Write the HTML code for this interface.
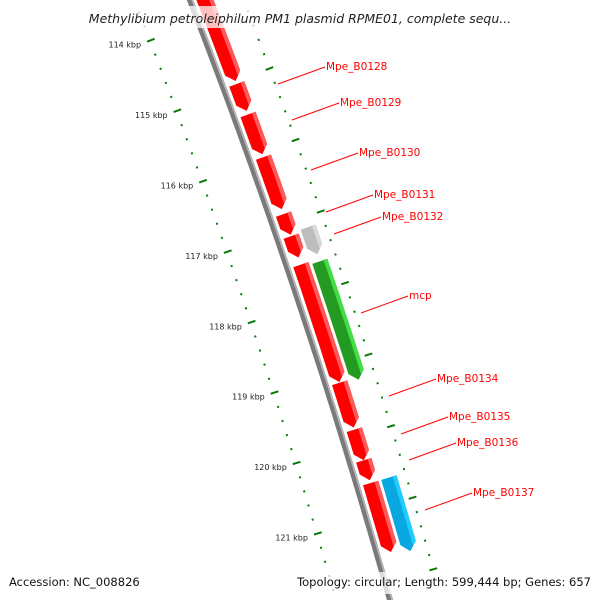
<!DOCTYPE html>
<html><head><meta charset="utf-8"><style>
html,body{margin:0;padding:0;background:#fff;}
svg{display:block;font-family:"DejaVu Sans","Liberation Sans",sans-serif;}
</style></head><body>
<svg id="c" width="600" height="600" viewBox="0 0 600 600"></svg>
<script>
const geneNames = ["","Mpe_B0128","Mpe_B0129","Mpe_B0130","Mpe_B0131","Mpe_B0132","","mcp","Mpe_B0134","Mpe_B0135","Mpe_B0136","Mpe_B0137"];
const geneStarts = [113.55,114.94,115.37,115.97,116.77,117.08,117.48,119.14,119.80,120.23,120.55];
const geneEnds   = [114.90,115.32,115.93,116.70,117.06,117.38,119.13,119.77,120.23,120.51,121.52];
const ring2Starts = [117.04,117.52,120.55];
const ring2Ends   = [117.42,119.18,121.58];
const ring2Kinds  = ["gray","green","blue"];
const tickLabels = [114,115,116,117,118,119,120,121];
const labelTexts = ["Mpe_B0128","Mpe_B0129","Mpe_B0130","Mpe_B0131","Mpe_B0132","mcp","Mpe_B0134","Mpe_B0135","Mpe_B0136","Mpe_B0137"];
const labelX = [326,340,359,374,382,409,437,449,457,473];
const labelY = [66,102,152,194,216,295,378,416,442,492];

const NS="http://www.w3.org/2000/svg";
const svg=document.getElementById('c');
function el(t,a,p){const e=document.createElementNS(NS,t);for(const k in a)e.setAttribute(k,a[k]);(p||svg).appendChild(e);return e;}
const B=0.3867,C=-8.9e-5;
function bx(y){return 190+B*y+C*y*y;}
function ky(kb){return 22+(kb-114)*71;}
function pt(y,off){const s=B+2*C*y;const n=Math.sqrt(1+s*s);return [bx(y)+off/n, y-s*off/n];}
function P(a){return a.map(p=>p[0].toFixed(1)+","+p[1].toFixed(1)).join(" ");}

const bb=[];for(let y=-10;y<=610;y+=10)bb.push(pt(y,0));
let e=el('polyline',{points:P(bb),fill:'none',stroke:'#7a7a7a','stroke-width':6});

const bb2=[];for(let y=-10;y<=610;y+=10)bb2.push(pt(y,2));
el('polyline',{points:P(bb2),fill:'none',stroke:'#b8b8b8','stroke-width':1.5});

const ticks=el('g',{});

for(let k=113;k<=122.01;k+=0.2){
  const kb=Math.round(k*10)/10;const y=ky(kb);
  const major=Math.abs(kb-Math.round(kb))<0.01;
  const a=pt(y,major?-55:-53),b=pt(y,major?-47:-51);
  el('line',{x1:a[0],y1:a[1],x2:b[0],y2:b[1],stroke:'#0a7a0a','stroke-width':2},ticks);
  const yo=ky(kb-0.1);
  const c=pt(yo,major?46:49),d=pt(yo,major?54:51);
  el('line',{x1:c[0],y1:c[1],x2:d[0],y2:d[1],stroke:'#0a7a0a','stroke-width':2},ticks);
}
tickLabels.forEach(k=>{const p=pt(ky(k),-55);
  const t=el('text',{x:p[0]-6,y:p[1]+6,'font-size':8,fill:'#222','text-anchor':'end'});
  t.textContent=k+" kbp";
  
  });

function gene(s,eK,o1,o2,fill,light,name){
  const y1=ky(s),y2=ky(eK),tip=Math.min(8,(y2-y1)*0.4),yb=y2-tip;
  const L=[],R=[];
  for(let i=0;i<=10;i++){const y=y1+(yb-y1)*i/10;L.push(pt(y,o1));R.push(pt(y,o2));}
  const poly=L.concat([pt(y2,(o1+o2)/2)]).concat(R.reverse());
  const g=el('g',{});
  
  
  el('polygon',{points:P(poly),fill:fill},g);
  const S1=[],S2=[];
  for(let i=0;i<=10;i++){const y=y1+(yb-y1)*i/10;S1.push(pt(y,o2-4));S2.push(pt(y,o2));}
  el('polygon',{points:P(S1.concat([pt(y2-tip*0.5,(o1+o2)/2+4)]).concat([pt(y2,(o1+o2)/2)]).concat(S2.reverse())),fill:light},g);
}
for(let i=0;i<geneStarts.length;i++)gene(geneStarts[i],geneEnds[i],6,22,'#ff0000','#ff5a5a','gene-'+(geneNames[i]||('red-'+i)).toLowerCase());
const cols={gray:['#bdbdbd','#d9d9d9'],green:['#239b23','#44dd44'],blue:['#0aa8e0','#22ccff']};
for(let i=0;i<ring2Starts.length;i++)gene(ring2Starts[i],ring2Ends[i],25,41,cols[ring2Kinds[i]][0],cols[ring2Kinds[i]][1],'feature-'+ring2Kinds[i]);

for(let i=0;i<labelTexts.length;i++){
  const x=labelX[i],y=labelY[i];
  const l=el('line',{x1:x-48,y1:y+18,x2:x-1,y2:y+1,stroke:'#ff0000','stroke-width':1});
  
  const t=el('text',{x:x,y:y+4,'font-size':10.5,fill:'#ff0000'});
  t.textContent=labelTexts[i];
  
  
}
el('rect',{x:60,y:6,width:480,height:22,fill:'#fff','fill-opacity':0.75});
const ti=el('text',{x:300,y:23,'font-size':12.5,'font-style':'italic',fill:'#222','text-anchor':'middle'});
ti.textContent="Methylibium petroleiphilum PM1 plasmid RPME01, complete sequ...";

el('rect',{x:280,y:572,width:316,height:22,fill:'#fff','fill-opacity':0.75});
const a1=el('text',{x:9,y:586,'font-size':11.5,fill:'#111'});
a1.textContent="Accession: NC_008826";

const a2=el('text',{x:591,y:586,'font-size':11.5,fill:'#111','text-anchor':'end'});
a2.textContent="Topology: circular; Length: 599,444 bp; Genes: 657";

</script>
</body></html>
